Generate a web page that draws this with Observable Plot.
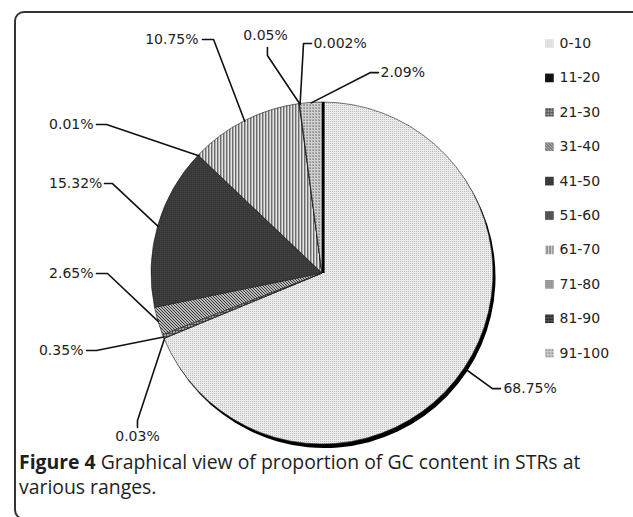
<!DOCTYPE html>
<html><head><meta charset="utf-8">
<script src="https://cdn.jsdelivr.net/npm/d3@7"></script>
<script src="https://cdn.jsdelivr.net/npm/@observablehq/plot@0.6"></script>
<style>
body{margin:0;background:#fff;}
#wrap{position:relative;width:633px;height:517px;overflow:hidden;background:#fff;}
#frame{position:absolute;left:14px;top:11px;width:660px;height:509px;border:2px solid #333;border-radius:10px;box-sizing:border-box;}
#chart{position:absolute;left:0;top:0;}
#caption{position:absolute;left:19px;top:449px;font-family:"Open Sans";font-size:19.4px;line-height:25px;color:#1e1e1e;white-space:nowrap;}
#caption b{font-weight:700;}
</style></head><body>
<div id="wrap"><div id="frame"></div><div id="chart"></div>
<div id="caption"><b>Figure 4</b> Graphical view of proportion of GC content in STRs at<br>various ranges.</div></div>
<script>
// ---- data ----
const categories = ["0-10","11-20","21-30","31-40","41-50","51-60","61-70","71-80","81-90","91-100"];
const percentages = [68.75, 0.03, 0.35, 2.65, 15.32, 0.01, 10.75, 0.05, 0.002, 2.09];
const labels = ["68.75%","0.03%","0.35%","2.65%","15.32%","0.01%","10.75%","0.05%","0.002%","2.09%"];

// ---- layout (label placement in pie-radius units) ----
const labelLayout = [
  {elbow:[0.994,-0.673], end:[1.041,-0.673], text:[1.058,-0.673], anchor:"start"},
  {elbow:[-1.082,-0.860], end:[-1.082,-0.900], text:[-1.082,-0.953], anchor:"middle"},
  {elbow:[-1.322,-0.450], end:[-1.380,-0.450], text:[-1.398,-0.450], anchor:"end"},
  {elbow:[-1.257,0.000], end:[-1.322,0.000], text:[-1.339,0.000], anchor:"end"},
  {elbow:[-1.228,0.526], end:[-1.275,0.526], text:[-1.287,0.526], anchor:"end"},
  {elbow:[-1.263,0.871], end:[-1.322,0.871], text:[-1.339,0.871], anchor:"end"},
  {elbow:[-0.637,1.368], end:[-0.702,1.368], text:[-0.725,1.368], anchor:"end"},
  {elbow:[-0.322,1.275], end:[-0.322,1.322], text:[-0.333,1.392], anchor:"middle"},
  {elbow:[-0.111,1.345], end:[-0.064,1.345], text:[-0.053,1.345], anchor:"start"},
  {elbow:[0.281,1.175], end:[0.327,1.175], text:[0.339,1.175], anchor:"start"}
];
const legendLayout = {xBox:1.327, xText:1.386, y0:1.345, dy:0.2012};
const FONT = "DejaVu Sans";

// ---- pattern styles ----
const patternDefs = [
  {w:2,h:2,bg:"#ececec",px:[[0,0,1,1,"#bdbdbd"]]},
  {w:2,h:2,bg:"#111111",px:[]},
  {w:3,h:3,bg:"#a2a2a2",px:[[0,0,3,1,"#505050"],[0,0,1,3,"#505050"]]},
  {w:3,h:3,bg:"#bdbdbd",px:[[0,0,1,1,"#333"],[1,1,1,1,"#333"],[2,2,1,1,"#333"]]},
  {w:2,h:2,bg:"#383838",px:[[0,0,1,1,"#444"]]},
  {w:2,h:2,bg:"#2e2e2e",px:[[0,0,1,1,"#7a7a7a"],[1,1,1,1,"#7a7a7a"]]},
  {w:3,h:3,bg:"#e4e4e4",px:[[0,0,1,3,"#6c6c6c"],[1,0,1,3,"#b0b0b0"]]},
  {w:2,h:2,bg:"#acacac",px:[[0,0,1,1,"#666"]]},
  {w:3,h:3,bg:"#5e5e5e",px:[[0,0,3,1,"#1e1e1e"],[0,0,1,3,"#333"]]},
  {w:3,h:3,bg:"#a8a8a8",px:[[0,1,3,1,"#d0d0d0"],[1,0,1,3,"#d0d0d0"],[0,0,1,1,"#8a8a8a"]]}
];

const pie = d3.pie().sort(null).value(d => d)(percentages);
const slices = pie.map((p, i) => ({...p, cat: categories[i], label: labels[i], mid: (p.startAngle + p.endAngle) / 2}));

const pieMark = (index, scales) => {
  const cx = scales.x(0), cy = scales.y(0), R = scales.x(1) - scales.x(0);
  const g = d3.create("svg:g");
  const defs = g.append("defs");
  patternDefs.forEach((p, i) => {
    const pat = defs.append("pattern").attr("id", "gcp" + i).attr("patternUnits", "userSpaceOnUse")
      .attr("width", p.w).attr("height", p.h);
    pat.append("rect").attr("width", p.w).attr("height", p.h).attr("fill", p.bg);
    p.px.forEach(([x, y, w, h, c]) => pat.append("rect").attr("x", x).attr("y", y).attr("width", w).attr("height", h).attr("fill", c));
  });
  const arc = d3.arc().innerRadius(0).outerRadius(R);
  // shadow of the large slice
  g.append("path").attr("transform", `translate(${cx + 2.5},${cy + 4})`).attr("d", arc(slices[0])).attr("fill", "#000");
  g.append("g").attr("transform", `translate(${cx},${cy})`)
    .selectAll("path").data(slices).join("path")
    .attr("d", arc).attr("fill", (d, i) => `url(#gcp${i})`)
    .attr("stroke", "#1a1a1a").attr("stroke-width", 0.6).attr("stroke-linejoin", "round");
  // dark edge at start of first slice
  const a0 = slices[0].startAngle;
  g.append("line").attr("x1", cx + 1.3).attr("y1", cy)
    .attr("x2", scales.x(Math.sin(a0)) + 1.3).attr("y2", scales.y(Math.cos(a0)))
    .attr("stroke", "#000").attr("stroke-width", 2.6);
  return g.node();
};

const leaderPts = slices.flatMap((s, i) => {
  const L = labelLayout[i];
  return [
    {k: i, x: Math.sin(s.mid), y: Math.cos(s.mid)},
    {k: i, x: L.elbow[0], y: L.elbow[1]},
    {k: i, x: L.end[0], y: L.end[1]}
  ];
});
const labelRows = slices.map((s, i) => ({label: s.label, x: labelLayout[i].text[0], y: labelLayout[i].text[1], anchor: labelLayout[i].anchor}));
const legendRows = categories.map((c, i) => ({cat: c, fill: `url(#gcp${i})`, y: legendLayout.y0 - i * legendLayout.dy}));

const textMark = anchor => Plot.text(labelRows.filter(d => d.anchor === anchor), {
  x: "x", y: "y", text: "label", textAnchor: anchor, fontSize: 14, fontFamily: FONT, fill: "#222"
});

const chart = Plot.plot({
  width: 633, height: 450,
  marginLeft: 151, marginRight: 140, marginTop: 102, marginBottom: 6,
  x: {domain: [-1, 1], axis: null},
  y: {domain: [-1, 1], axis: null},
  color: {type: "identity"},
  style: {fontFamily: FONT, fontSize: "14px", background: "transparent", overflow: "visible"},
  marks: [
    pieMark,
    Plot.line(leaderPts, {x: "x", y: "y", z: "k", stroke: "#111", strokeWidth: 1.6, curve: "linear"}),
    textMark("start"), textMark("end"), textMark("middle"),
    Plot.dot(legendRows, {x: () => legendLayout.xBox, y: "y", fill: "fill", symbol: "square", r: 4.9}),
    Plot.text(legendRows, {x: () => legendLayout.xText, y: "y", text: "cat", textAnchor: "start", fontSize: 14, fontFamily: FONT, fill: "#222"})
  ]
});
document.getElementById("chart").appendChild(chart);
</script>
</body></html>
